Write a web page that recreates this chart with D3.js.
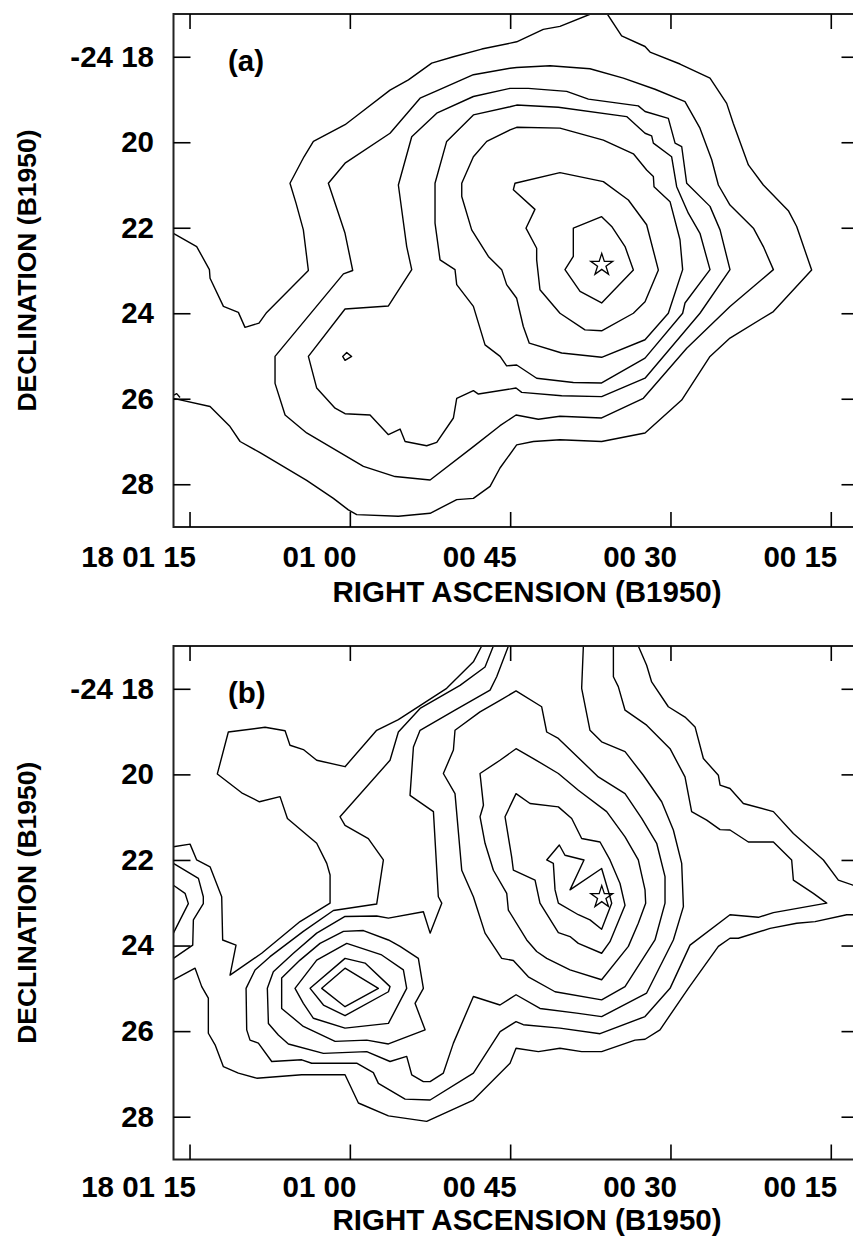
<!DOCTYPE html>
<html>
<head>
<meta charset="utf-8">
<script src="https://cdn.jsdelivr.net/npm/d3@7"></script>
<style>
  body { margin: 0; background: #fff; }
  svg text { font-family: "Liberation Sans", Arial, Helvetica, sans-serif; font-weight: bold; fill: #000; }
</style>
</head>
<body>
<svg id="fig" width="853" height="1238"></svg>
<script>
// Axis ticks: RA in seconds after 18h00m, Dec in arcmin after -24 deg
const RA_TICKS = [75, 60, 45, 30, 15];
const RA_LABELS = ["18 01 15", "01 00", "00 45", "00 30", "00 15"];
const DEC_TICKS = [18, 20, 22, 24, 26, 28];
const DEC_LABELS = ["-24 18", "20", "22", "24", "26", "28"];
const STAR = [36.43, 22.87];

// ---- Panel (a) contours: [RA s, Dec arcmin] ----
const a1West = [[76.8,22.1],[76.51,22.13],[74.33,22.44],[73.14,22.98],[73.08,23.18],[71.83,23.84],[70.43,23.98],[69.81,24.33],[68.50,24.23],[67.78,23.98],[63.88,23.00],[64.35,22.05],[65.03,21.43],[65.60,20.96],[64.29,20.34],[63.41,19.98],[60.45,19.59],[59.05,19.32],[56.24,18.78],[54.52,18.54],[52.34,18.15],[50.31,18.00],[47.66,17.82],[44.39,17.65],[41.90,17.36],[40.34,17.29],[37.47,17.00],[37.0,16.95]];
const a1East = [[36.2,16.93],[35.91,17.00],[34.57,17.51],[32.38,17.76],[31.91,17.89],[29.11,18.17],[26.30,18.50],[24.74,19.09],[24.12,19.56],[22.71,20.53],[21.31,21.00],[18.97,21.60],[18.19,21.97],[16.79,22.99],[20.37,23.96],[24.43,24.58],[26.30,25.01],[28.95,26.03],[32.38,26.80],[36.44,27.00],[40.34,26.96],[42.83,27.00],[44.39,27.08],[45.95,27.62],[46.88,28.05],[48.44,28.33],[50.00,28.36],[52.49,28.68],[55.46,28.75],[59.36,28.71],[60.14,28.60],[61.54,28.33],[64.04,27.91],[68.40,27.26],[70.27,27.00],[71.21,26.65],[73.08,26.18],[76.51,25.99],[76.8,25.97]];
const a1Edge = [[76.6,25.93],[76.20,25.88],[75.89,25.97]];
const a2 = [[45.01,18.27],[48.44,18.42],[51.72,18.78],[53.43,18.97],[56.24,19.79],[60.45,20.49],[62.01,20.96],[61.07,21.66],[60.45,22.13],[59.73,23.00],[60.60,23.08],[67.00,25.01],[67.00,25.64],[66.06,26.38],[64.04,26.80],[58.73,27.58],[55.77,27.82],[52.49,27.90],[48.44,27.12],[45.95,26.63],[44.45,26.38],[42.36,26.48],[40.34,26.41],[36.44,26.45],[32.54,25.99],[28.48,24.82],[24.43,23.84],[20.37,22.98],[21.31,22.44],[22.24,22.01],[24.43,21.47],[25.52,21.00],[26.14,20.41],[27.24,19.67],[28.64,19.05],[31.45,18.76],[34.41,18.50],[37.53,18.28],[41.27,18.21],[44.39,18.25]];
const a3 = [[45.01,18.74],[48.44,18.93],[51.87,19.32],[54.21,19.87],[55.46,21.00],[54.68,22.44],[54.21,22.98],[56.39,23.83],[60.45,23.90],[63.88,25.01],[63.10,25.75],[61.38,26.22],[60.45,26.35],[58.11,26.38],[56.39,26.84],[55.30,26.71],[54.83,27.00],[52.81,27.10],[51.87,27.02],[50.31,26.45],[50.00,25.99],[48.44,25.81],[47.97,25.89],[44.45,25.75],[43.92,25.85],[40.18,25.93],[36.44,25.95],[32.38,25.52],[27.24,24.00],[24.43,22.98],[25.36,22.05],[26.30,21.50],[28.48,20.96],[28.95,20.10],[29.57,20.02],[30.20,19.44],[32.38,19.28],[33.01,19.15],[37.68,18.99],[39.71,18.81],[43.30,18.74],[44.39,18.74]];
const a4 = [[45.01,19.17],[48.44,19.36],[50.94,19.98],[52.03,20.96],[52.03,21.89],[51.56,22.75],[50.16,22.98],[50.00,23.33],[48.44,23.84],[47.35,24.74],[45.94,25.01],[45.33,25.23],[44.39,25.21],[42.52,25.52],[39.09,25.62],[36.44,25.63],[32.38,25.05],[28.86,24.00],[28.64,23.76],[26.30,22.98],[27.24,22.13],[28.33,21.66],[29.42,21.04],[29.89,20.34],[31.60,20.02],[31.76,19.85],[32.38,19.79],[34.10,19.40],[40.49,19.18],[44.39,19.13]];
const a5 = [[45.01,19.71],[47.19,19.98],[48.44,20.34],[49.53,20.96],[49.53,21.27],[48.60,22.05],[47.04,22.67],[45.79,22.98],[45.33,23.33],[44.39,23.65],[43.77,24.31],[43.21,24.70],[40.18,24.93],[36.44,25.03],[32.38,24.62],[30.20,24.00],[28.86,22.98],[29.11,22.28],[30.04,21.39],[31.54,21.04],[31.60,20.80],[32.23,20.65],[33.47,20.27],[36.28,19.95],[40.34,19.67],[44.39,19.65]];
const a6 = [[44.55,20.96],[40.34,20.71],[36.28,20.92],[33.94,21.35],[32.23,21.93],[31.13,22.99],[32.38,23.73],[33.47,24.00],[36.44,24.41],[38.00,24.39],[40.34,24.00],[42.21,23.45],[42.52,22.75],[42.52,22.48],[43.52,22.01],[42.68,21.57],[44.70,21.11]];
const a7 = [[39.09,22.01],[36.44,21.74],[35.50,21.97],[34.25,22.44],[33.47,22.99],[36.44,23.76],[38.46,23.49],[39.87,22.98],[39.09,22.67]];
const aSpot = [[60.67,25.01],[60.29,24.92],[59.83,25.01],[60.45,25.10]];

// ---- Panel (b) contours ----
// level 1: from the western edge, over the saddle and round the north-west knot to the top edge
const b1West = [[76.8,21.69],[76.51,21.69],[74.95,21.63],[74.33,22.00],[73.08,22.16],[71.99,22.86],[71.90,23.87],[70.65,23.99],[71.21,24.69],[68.25,24.18],[64.66,23.44],[61.85,23.01],[61.85,22.35],[62.16,22.08],[63.10,21.61],[65.84,21.03],[66.53,20.52],[68.46,20.64],[70.12,20.43],[72.40,19.99],[71.37,19.01],[67.93,18.90],[66.06,18.98],[65.60,19.32],[64.35,19.42],[63.10,19.67],[60.45,19.82],[57.49,18.97],[55.46,18.72],[50.94,17.99],[48.44,17.37],[47.66,17.00],[47.5,16.92]];
const b1NorthEast = [[33.1,16.9],[33.01,17.00],[32.23,17.45],[31.76,17.84],[30.20,18.42],[28.64,18.66],[27.70,18.89],[26.92,19.63],[25.52,20.02],[25.36,20.25],[24.43,20.33],[23.18,20.68],[20.37,20.87],[18.50,21.38],[15.69,22.00],[14.29,22.47],[12.92,22.59],[12.2,22.65]];
const b1South = [[12.2,23.28],[13.51,23.28],[16.47,23.44],[18.19,23.48],[20.68,23.60],[23.65,23.83],[24.43,23.83],[25.52,24.02],[28.33,25.00],[30.98,25.97],[32.38,26.19],[33.32,26.21],[36.44,26.48],[38.31,26.48],[40.34,26.40],[42.36,26.48],[44.45,26.40],[45.01,26.75],[48.44,27.61],[52.81,28.11],[56.39,27.98],[59.20,27.68],[60.45,27.02],[64.50,27.02],[68.71,27.10],[70.43,26.98],[71.83,26.83],[72.61,26.32],[73.24,26.05],[73.24,25.23],[73.86,24.96],[74.48,24.53],[76.51,24.80],[76.8,24.82]];
// level 2: top edge, round both sources to the eastern tongue, back to the top edge
const b2 = [[46.4,16.9],[46.57,17.00],[47.35,17.49],[49.69,17.92],[53.43,18.46],[55.46,19.01],[56.24,19.67],[60.92,20.99],[60.45,21.19],[58.27,21.50],[56.86,22.00],[57.49,23.03],[61.54,23.18],[64.35,23.67],[67.47,24.26],[68.87,24.57],[69.71,25.00],[69.65,25.97],[69.34,26.21],[68.56,26.28],[67.31,26.71],[64.50,26.67],[63.57,26.75],[59.36,26.75],[57.80,26.97],[57.33,27.22],[54.83,27.59],[52.49,27.61],[48.44,26.98],[45.94,26.01],[44.45,25.78],[43.77,25.85],[40.34,25.93],[36.59,26.06],[32.38,25.66],[30.04,25.00],[28.17,23.99],[24.43,23.28],[21.78,23.34],[20.37,23.23],[15.38,23.01],[16.63,22.78],[18.50,22.47],[18.66,22.00],[20.37,21.58],[22.71,21.58],[24.43,21.30],[25.36,21.29],[26.61,21.07],[28.02,20.87],[28.64,20.06],[30.04,19.40],[32.23,18.85],[34.25,18.50],[34.88,17.95],[35.34,17.72],[35.34,16.9]];
// level 3: top edge, round both sources, back to the top edge
const b3 = [[45.0,16.9],[45.16,17.00],[46.26,17.72],[46.88,18.03],[50.16,18.50],[53.43,18.97],[54.05,19.36],[54.37,20.49],[52.18,20.87],[51.72,22.86],[51.40,23.01],[52.49,23.71],[53.12,23.21],[56.39,23.36],[57.49,23.31],[60.45,23.32],[63.10,23.71],[65.28,24.18],[67.16,24.61],[67.72,25.00],[67.62,25.82],[66.69,26.09],[65.75,26.30],[62.47,26.52],[58.42,26.48],[56.24,26.71],[54.68,26.59],[54.21,27.02],[53.12,27.18],[52.49,27.18],[51.25,26.98],[50.31,26.28],[48.44,25.19],[45.95,25.39],[44.45,25.15],[42.21,25.47],[38.78,25.58],[36.44,25.66],[32.23,25.11],[29.73,23.87],[28.79,23.09],[28.95,22.08],[29.73,21.30],[30.82,20.64],[32.54,20.02],[34.25,19.47],[36.44,19.24],[37.53,18.97],[38.31,17.99],[38.15,17.00],[38.15,16.9]];
// levels 4-7 round the eastern source
const b4East = [[50.16,18.97],[50.31,19.43],[51.25,19.98],[50.16,20.45],[49.53,22.24],[48.44,22.86],[47.35,23.71],[45.79,24.30],[44.70,24.35],[43.30,24.73],[40.80,25.08],[36.44,25.27],[34.25,24.96],[31.45,23.87],[30.51,23.01],[30.51,22.39],[31.29,21.61],[32.69,21.03],[34.25,20.45],[36.75,20.06],[40.49,19.16],[41.58,19.01],[42.05,18.42],[44.45,18.05],[45.95,18.27],[47.82,18.54]];
const b5East = [[47.82,19.98],[47.50,20.72],[47.82,20.99],[47.35,21.61],[46.57,22.24],[45.32,22.78],[45.17,23.17],[43.45,23.87],[42.52,24.14],[41.58,24.30],[39.40,24.57],[36.44,24.80],[33.94,24.02],[33.01,23.48],[32.32,23.01],[32.38,22.70],[33.01,22.00],[34.25,21.46],[35.97,20.87],[38.62,20.37],[40.49,19.98],[42.83,19.63],[44.45,19.40],[45.95,19.67]];
const b6East = [[44.45,20.45],[43.14,20.68],[40.49,20.76],[39.24,21.03],[38.31,21.50],[36.59,21.58],[35.66,22.00],[34.72,22.55],[34.25,23.06],[35.66,23.91],[36.44,24.18],[38.62,23.95],[39.40,23.79],[40.49,23.70],[42.21,23.01],[42.67,22.47],[44.70,22.24],[44.86,21.93],[45.48,20.99]];
const b7East = [[41.58,22.00],[40.40,21.65],[39.87,21.89],[38.09,22.00],[39.40,22.70],[36.44,22.20],[35.66,22.86],[35.50,23.01],[36.44,23.62],[37.53,23.40],[38.62,23.28],[40.49,23.01],[40.80,22.70],[40.96,22.08]];
// levels 4-7 round the western source
const b4West = [[66.38,25.04],[66.38,25.47],[64.35,25.89],[61.38,26.24],[58.42,26.21],[56.39,26.30],[52.96,25.97],[53.90,25.35],[53.12,25.00],[53.59,24.30],[55.30,24.02],[56.39,23.87],[58.73,23.65],[60.60,23.67],[62.79,23.95],[64.66,24.34],[66.38,24.76]];
const b5West = [[65.13,25.00],[64.35,25.35],[63.41,25.70],[60.45,25.93],[56.39,25.82],[54.68,25.00],[54.99,24.57],[57.02,24.22],[60.29,23.95],[63.10,24.34]];
const b6West = [[63.72,25.00],[62.47,25.39],[60.45,25.64],[56.39,25.08],[56.24,24.96],[58.58,24.41],[60.45,24.30]];
const b7West = [[62.63,25.00],[60.45,24.53],[57.33,25.00],[60.45,25.43]];
// source beyond the western edge
const bEdge2 = [[76.8,22.06],[76.51,22.08],[74.17,22.43],[73.71,22.86],[73.71,23.02],[74.64,23.40],[74.70,23.99],[76.51,24.30],[76.8,24.32]];
const bEdge3 = [[76.8,22.57],[76.51,22.59],[75.42,22.78],[75.11,23.02],[76.51,23.71],[76.8,23.74]];

const PANEL_A_OPEN = [a1West, a1East, a1Edge];
const PANEL_A_CLOSED = [a2, a3, a4, a5, a6, a7, aSpot];
const PANEL_B_OPEN = [b1West, b1NorthEast, b1South, b2, b3, bEdge2, bEdge3];
const PANEL_B_CLOSED = [b4East, b5East, b6East, b7East, b4West, b5West, b6West, b7West];

const svg = d3.select("#fig");
const TICK_FONT = 29.5;
const TITLE_FONT = 29.5;

const x = d3.scaleLinear().domain([76.5, 12.5]).range([173.5, 857.5]);

function drawPanel(top, bottom, tag, labelPad, titleGap, openLines, closedLines) {
  const y = d3.scaleLinear().domain([17, 29]).range([top, bottom]);
  const g = svg.append("g");
  const clipId = "clip-" + tag.replace(/[()]/g, "");
  svg.append("clipPath").attr("id", clipId)
    .append("rect").attr("x", x(76.5)).attr("y", top)
    .attr("width", x(12.5) - x(76.5)).attr("height", bottom - top);

  const plot = g.append("g").attr("clip-path", `url(#${clipId})`);
  const line = d3.line().x(d => x(d[0])).y(d => y(d[1]));
  const ring = d3.line().x(d => x(d[0])).y(d => y(d[1])).curve(d3.curveLinearClosed);

  plot.selectAll("path.open").data(openLines).join("path")
    .attr("class", "open").attr("d", line)
    .attr("fill", "none").attr("stroke", "#000").attr("stroke-width", 1.4)
    .attr("stroke-linejoin", "round");
  plot.selectAll("path.closed").data(closedLines).join("path")
    .attr("class", "closed").attr("d", ring)
    .attr("fill", "none").attr("stroke", "#000").attr("stroke-width", 1.4)
    .attr("stroke-linejoin", "round");

  // star marker at the source position
  plot.append("path")
    .attr("d", d3.symbol(d3.symbolStar, 150)())
    .attr("transform", `translate(${x(STAR[0])},${y(STAR[1])})`)
    .attr("fill", "none").attr("stroke", "#000").attr("stroke-width", 1.3);

  // frame
  g.append("rect")
    .attr("x", x(76.5)).attr("y", top)
    .attr("width", x(12.5) - x(76.5)).attr("height", bottom - top)
    .attr("fill", "none").attr("stroke", "#222").attr("stroke-width", 2);

  // axes with inward ticks
  const bottomAxis = d3.axisBottom(x).tickValues(RA_TICKS)
    .tickFormat((d, i) => RA_LABELS[i]).tickSize(-15).tickPadding(labelPad);
  const topAxis = d3.axisTop(x).tickValues(RA_TICKS).tickFormat("").tickSize(-15);
  const leftAxis = d3.axisLeft(y).tickValues(DEC_TICKS)
    .tickFormat((d, i) => DEC_LABELS[i]).tickSize(-17).tickPadding(19.5);
  const rightAxis = d3.axisRight(y).tickValues(DEC_TICKS).tickFormat("").tickSize(-16);

  const styleAxis = sel => {
    sel.select(".domain").remove();
    sel.selectAll(".tick line").attr("stroke", "#000").attr("stroke-width", 1.6);
    sel.selectAll(".tick text").attr("font-size", TICK_FONT).attr("fill", "#000")
      .attr("font-family", "Liberation Sans, Arial, sans-serif").attr("font-weight", "bold");
  };
  g.append("g").attr("transform", `translate(0,${bottom})`).call(bottomAxis).call(styleAxis)
    .selectAll(".tick text").attr("text-anchor", "end").attr("dx", 6);
  g.append("g").attr("transform", `translate(0,${top})`).call(topAxis).call(styleAxis);
  g.append("g").attr("transform", `translate(${x(76.5)},0)`).call(leftAxis).call(styleAxis);
  g.append("g").attr("transform", `translate(${x(12.5)},0)`).call(rightAxis).call(styleAxis);

  // panel tag
  g.append("text").attr("x", 228).attr("y", top + 57)
    .attr("font-size", TITLE_FONT).text(tag);

  // axis titles
  g.append("text").attr("x", 527).attr("y", bottom + titleGap)
    .attr("text-anchor", "middle").attr("font-size", TITLE_FONT)
    .text("RIGHT ASCENSION (B1950)");
  const cy = (top + bottom) / 2;
  g.append("text").attr("transform", `translate(36,${cy}) rotate(-90)`)
    .attr("text-anchor", "middle").attr("font-size", 26.5)
    .text("DECLINATION (B1950)");
}

drawPanel(14, 527, "(a)", 19, 75, PANEL_A_OPEN, PANEL_A_CLOSED);
drawPanel(646, 1159.5, "(b)", 17, 70, PANEL_B_OPEN, PANEL_B_CLOSED);
</script>
</body>
</html>
